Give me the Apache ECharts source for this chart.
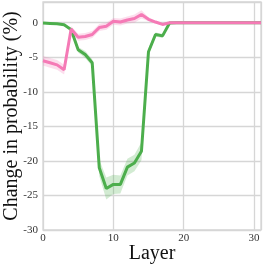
<!DOCTYPE html>
<html>
<head>
<meta charset="utf-8">
<script src="https://cdn.jsdelivr.net/npm/echarts@6/dist/echarts.min.js"></script>
<style>html,body{margin:0;padding:0;background:#fff}#c{width:266px;height:266px}</style>
</head>
<body>
<div id="c"></div>
<script>
const layers = [0,1,2,3,4,5,6,7,8,9,10,11,12,13,14,15,16,17,18,19,20,21,22,23,24,25,26,27,28,29,30,31];
const greenVals = [-0.05,-0.1,-0.15,-0.3,-1.0,-3.9,-4.6,-5.8,-21.0,-24.0,-23.4,-23.4,-20.9,-20.3,-18.6,-4.2,-1.7,-1.9,-0.05,0,0,0,0,0,0,0,0,0,0,0,0,0];
const greenErr  = [0.1,0.1,0.1,0.15,0.3,0.4,0.5,0.5,1.2,1.6,1.4,1.3,1.2,1.2,1.3,0.5,0.3,0.3,0.1,0.05,0.05,0.05,0.05,0.05,0.05,0.05,0.05,0.05,0.05,0.05,0.05,0.05];
const pinkVals  = [-5.5,-5.8,-6.1,-6.8,-0.9,-2.1,-2.0,-1.7,-0.7,-0.5,0.2,0.1,0.4,0.6,1.2,0.5,0.1,-0.25,0,0,0,0,0,0,0,0,0,0,0,0,0,0];
const pinkErr   = [0.7,0.7,0.7,0.7,0.4,0.5,0.5,0.5,0.5,0.5,0.5,0.5,0.5,0.6,0.6,0.3,0.2,0.15,0.1,0.05,0.05,0.05,0.05,0.05,0.05,0.05,0.05,0.05,0.05,0.05,0.05,0.05];
const yTicks = [-30,-25,-20,-15,-10,-5,0];
const xTicks = [0,10,20,30];

const GREEN = '#4cae4c';
const PINK = '#f57ab6';
const FONT = '"Liberation Serif", "DejaVu Serif", serif';

function band(vals, errs, color) {
  return {
    type: 'custom', silent: true, z: 1,
    data: [0],
    renderItem: function (params, api) {
      const pts = [];
      for (let i = 0; i < layers.length; i++) pts.push(api.coord([layers[i], vals[i] + errs[i]]));
      for (let i = layers.length - 1; i >= 0; i--) pts.push(api.coord([layers[i], vals[i] - errs[i]]));
      return {type: 'polygon', shape: {points: pts}, style: {fill: color, opacity: 0.25},
        clipPath: {type: 'rect', shape: params.coordSys}};
    }
  };
}

const chart = echarts.init(document.getElementById('c'), null, {renderer: 'canvas'});
chart.setOption({
  animation: false,
  grid: {left: 43, right: 5, top: 2, bottom: 36, show: true, borderColor: '#d6d6d6', borderWidth: 1.3,
         containLabel: false, outerBoundsMode: 'none'},
  xAxis: {
    type: 'value', min: 0, max: 31, interval: 10,
    name: 'Layer', nameLocation: 'middle', nameGap: 14, nameMoveOverlap: false,
    nameTextStyle: {fontFamily: FONT, fontSize: 20, color: '#111'},
    axisLine: {show: false}, axisTick: {show: false},
    axisLabel: {fontFamily: FONT, fontSize: 11, color: '#333', margin: 3,
      formatter: v => xTicks.includes(v) ? String(v) : ''},
    splitLine: {lineStyle: {color: '#d6d6d6', width: 1.3}}
  },
  yAxis: {
    type: 'value', min: -30, max: 3, interval: 5,
    name: 'Change in probability (%)', nameLocation: 'middle', nameGap: 21, nameMoveOverlap: false,
    nameTextStyle: {fontFamily: FONT, fontSize: 20, color: '#111'},
    axisLine: {show: false}, axisTick: {show: false},
    axisLabel: {fontFamily: FONT, fontSize: 11, color: '#333', margin: 5,
      formatter: v => yTicks.includes(v) ? String(v) : ''},
    splitLine: {lineStyle: {color: '#d6d6d6', width: 1.3}}
  },
  series: [
    band(greenVals, greenErr, GREEN),
    band(pinkVals, pinkErr, PINK),
    {type: 'line', name: 'green', data: layers.map((l, i) => [l, greenVals[i]]), symbol: 'none',
     lineStyle: {color: GREEN, width: 3}, z: 3},
    {type: 'line', name: 'pink', data: layers.map((l, i) => [l, pinkVals[i]]), symbol: 'none',
     lineStyle: {color: PINK, width: 3}, z: 4}
  ]
});
</script>
</body>
</html>
